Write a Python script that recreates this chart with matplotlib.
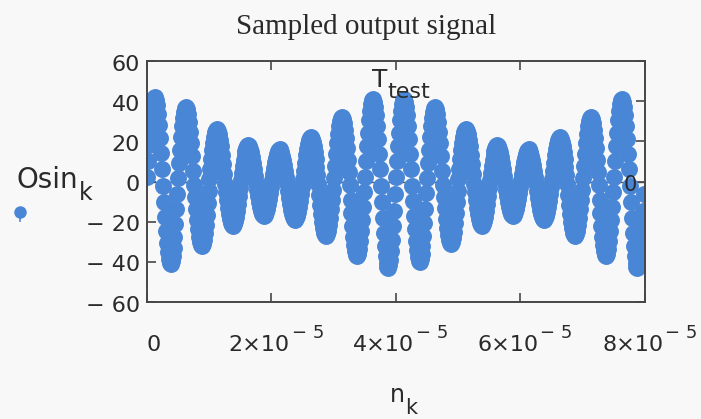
import numpy as np
import matplotlib
matplotlib.use("Agg")
import matplotlib.pyplot as plt
from matplotlib.lines import Line2D

plt.rcParams["font.family"] = ["DejaVu Sans"]
plt.rcParams["mathtext.fontset"] = "dejavusans"

# === sampling grid (n_k): 32 samples per carrier cycle ===
t_start = 0.039e-6
t_step = 5e-6 / 32

# === Osin_k, one list per carrier cycle (upper lobe, lower lobe) ===
cyc01 = [2.1, 10.2, 18.0, 25.0, 31.1, 36.0, 39.5, 41.5, 41.9, 40.7, 38.0, 33.7, 28.2, 21.6, 14.1, 6.2,
         -2.0, -10.0, -17.5, -24.4, -30.4, -35.2, -38.6, -40.6, -41.0, -39.8, -37.1, -32.9, -27.5, -21.1, -13.8, -6.0]
cyc02 = [1.8, 9.0, 15.8, 22.0, 27.4, 31.7, 34.8, 36.6, 37.0, 35.9, 33.4, 29.7, 24.8, 19.0, 12.5, 5.4,
         -1.6, -7.8, -13.7, -19.1, -23.7, -27.4, -30.1, -31.7, -32.0, -31.0, -28.9, -25.7, -21.5, -16.5, -10.8, -4.7]
cyc03 = [1.3, 6.3, 11.1, 15.5, 19.3, 22.3, 24.5, 25.7, 26.0, 25.2, 23.5, 20.9, 17.5, 13.4, 8.8, 3.8,
         -1.1, -5.3, -9.4, -13.1, -16.3, -18.9, -20.7, -21.8, -22.0, -21.3, -19.9, -17.7, -14.8, -11.3, -7.4, -3.2]
cyc04 = [0.9, 4.4, 7.7, 10.7, 13.3, 15.4, 16.9, 17.8, 18.0, 17.5, 16.3, 14.5, 12.1, 9.3, 6.1, 2.6,
         -0.8, -4.1, -7.3, -10.1, -12.6, -14.6, -16.0, -16.8, -17.0, -16.5, -15.4, -13.7, -11.4, -8.7, -5.7, -2.5]
cyc05 = [0.8, 3.9, 6.8, 9.5, 11.9, 13.7, 15.1, 15.8, 16.0, 15.5, 14.5, 12.9, 10.7, 8.2, 5.4, 2.3,
         -0.9, -4.6, -8.1, -11.3, -14.1, -16.3, -17.9, -18.8, -19.0, -18.4, -17.2, -15.3, -12.8, -9.8, -6.4, -2.8]
cyc06 = [1.1, 5.3, 9.4, 13.1, 16.3, 18.9, 20.7, 21.8, 22.0, 21.3, 19.9, 17.7, 14.8, 11.3, 7.4, 3.2,
         -1.3, -6.6, -11.5, -16.1, -20.0, -23.2, -25.4, -26.7, -27.0, -26.2, -24.4, -21.7, -18.1, -13.9, -9.1, -4.0]
cyc07 = [1.6, 7.8, 13.7, 19.1, 23.7, 27.4, 30.1, 31.7, 32.0, 31.0, 28.9, 25.7, 21.5, 16.5, 10.8, 4.7,
         -1.8, -9.0, -15.8, -22.0, -27.4, -31.7, -34.8, -36.6, -37.0, -35.9, -33.4, -29.7, -24.8, -19.0, -12.5, -5.4]
cyc08 = [2.0, 10.0, 17.5, 24.4, 30.4, 35.2, 38.6, 40.6, 41.0, 39.8, 37.1, 32.9, 27.5, 21.1, 13.8, 6.0,
         -2.1, -10.4, -18.4, -25.6, -31.9, -36.9, -40.5, -42.5, -42.9, -41.7, -38.9, -34.5, -28.9, -22.1, -14.5, -6.3]
cyc09 = [2.0, 10.0, 17.5, 24.4, 30.4, 35.2, 38.6, 40.6, 41.0, 39.8, 37.1, 32.9, 27.5, 21.1, 13.8, 6.0,
         -2.0, -9.7, -17.1, -23.8, -29.6, -34.3, -37.7, -39.6, -40.0, -38.8, -36.2, -32.1, -26.9, -20.6, -13.5, -5.9]
cyc10 = [1.8, 9.0, 15.8, 22.0, 27.4, 31.7, 34.8, 36.6, 37.0, 35.9, 33.4, 29.7, 24.8, 19.0, 12.5, 5.4,
         -1.5, -7.5, -13.3, -18.5, -23.0, -26.6, -29.2, -30.7, -31.0, -30.1, -28.0, -24.9, -20.8, -15.9, -10.4, -4.5]
cyc11 = [1.3, 6.3, 11.1, 15.5, 19.3, 22.3, 24.5, 25.7, 26.0, 25.2, 23.5, 20.9, 17.5, 13.4, 8.8, 3.8,
         -1.1, -5.3, -9.4, -13.1, -16.3, -18.9, -20.7, -21.8, -22.0, -21.3, -19.9, -17.7, -14.8, -11.3, -7.4, -3.2]
cyc12 = [0.9, 4.4, 7.7, 10.7, 13.3, 15.4, 16.9, 17.8, 18.0, 17.5, 16.3, 14.5, 12.1, 9.3, 6.1, 2.6,
         -0.8, -4.1, -7.3, -10.1, -12.6, -14.6, -16.0, -16.8, -17.0, -16.5, -15.4, -13.7, -11.4, -8.7, -5.7, -2.5]
cyc13 = [0.8, 3.9, 6.8, 9.5, 11.9, 13.7, 15.1, 15.8, 16.0, 15.5, 14.5, 12.9, 10.7, 8.2, 5.4, 2.3,
         -0.9, -4.6, -8.1, -11.3, -14.1, -16.3, -17.9, -18.8, -19.0, -18.4, -17.2, -15.3, -12.8, -9.8, -6.4, -2.8]
cyc14 = [1.1, 5.3, 9.4, 13.1, 16.3, 18.9, 20.7, 21.8, 22.0, 21.3, 19.9, 17.7, 14.8, 11.3, 7.4, 3.2,
         -1.3, -6.6, -11.5, -16.1, -20.0, -23.2, -25.4, -26.7, -27.0, -26.2, -24.4, -21.7, -18.1, -13.9, -9.1, -4.0]
cyc15 = [1.6, 7.8, 13.7, 19.1, 23.7, 27.4, 30.1, 31.7, 32.0, 31.0, 28.9, 25.7, 21.5, 16.5, 10.8, 4.7,
         -1.8, -9.0, -15.8, -22.0, -27.4, -31.7, -34.8, -36.6, -37.0, -35.9, -33.4, -29.7, -24.8, -19.0, -12.5, -5.4]
cyc16 = [2.0, 10.0, 17.5, 24.4, 30.4, 35.2, 38.6, 40.6, 41.0, 39.8, 37.1, 32.9, 27.5, 21.1, 13.8, 6.0,
         -2.1, -10.4, -18.4, -25.6, -31.9, -36.9, -40.5, -42.5, -42.9, -41.7, -38.9, -34.5, -28.9, -22.1, -14.5, -6.3]

osin = np.concatenate([cyc01, cyc02, cyc03, cyc04, cyc05, cyc06, cyc07, cyc08,
                       cyc09, cyc10, cyc11, cyc12, cyc13, cyc14, cyc15, cyc16])
n_k = t_start + t_step * np.arange(len(osin))

# === ticks ===
x_ticks = [0, 2e-5, 4e-5, 6e-5, 8e-5]
x_mant = ["0", "2\u00d710", "4\u00d710", "6\u00d710", "8\u00d710"]
x_exp = ["", "\u2212 5", "\u2212 5", "\u2212 5", "\u2212 5"]
y_ticks = [60, 40, 20, 0, -20, -40, -60]
y_labels = ["60", "40", "20", "0", "\u2212 20", "\u2212 40", "\u2212 60"]

dot_color = "#4a86d6"
frame_color = "#474747"
text_color = "#2a2a2a"
bg = "#f8f8f8"

W, H = 701, 419
def fx(x):
    return x / W
def fy(y):
    return 1 - y / H

fig = plt.figure(figsize=(7.01, 4.19), dpi=100, facecolor=bg)
ax = fig.add_axes([0.2097, 0.2792, 0.7104, 0.5752], facecolor=bg)

ax.axhline(0, color="#555555", lw=1.0, zorder=1)
ax.plot(n_k, osin, "o", ms=12.2, color=dot_color, mec="none", zorder=2)

ax.set_xlim(0, 8e-5)
ax.set_ylim(-60, 60)
ax.set_xticks(x_ticks)
ax.set_yticks(y_ticks)
ax.tick_params(direction="in", length=6.5, width=1.2, color=frame_color,
               top=True, right=True, labelbottom=False, labelleft=False)
for s in ax.spines.values():
    s.set_color(frame_color)
    s.set_linewidth(1.4)

# tick labels, placed the way Mathcad does it (mantissa + raised exponent)
x0_px, x1_px = 147, 645
for v, m, e in zip(x_ticks, x_mant, x_exp):
    xt = x0_px + v / 8e-5 * (x1_px - x0_px)
    if e:
        fig.text(fx(xt + 18.5), fy(351), m, ha="right", va="baseline",
                 fontsize=16, color=text_color)
        fig.text(fx(xt + 20), fy(338), e, ha="left", va="baseline",
                 fontsize=13, color=text_color)
    else:
        fig.text(fx(xt + 7), fy(351), m, ha="center", va="baseline",
                 fontsize=16, color=text_color)
for v, lab in zip(y_ticks, y_labels):
    ax.text(-0.014, v - 1.8, lab, transform=ax.get_yaxis_transform(),
            ha="right", va="center", fontsize=16, color=text_color)

# axis names and markers
fig.text(fx(390), fy(402), "n", ha="left", va="baseline", fontsize=17, color=text_color)
fig.text(fx(405), fy(414), "k", ha="left", va="baseline", fontsize=15, color=text_color)
fig.text(fx(372), fy(87), "T", ha="left", va="baseline", fontsize=18, color=text_color)
fig.text(fx(387), fy(98), "test", ha="left", va="baseline", fontsize=16, color=text_color)
ax.text(7.76e-5, -1.5, "0", ha="center", va="center", fontsize=15, color=text_color)

# legend at left
fig.text(fx(16), fy(188), "Osin", ha="left", va="baseline", fontsize=20, color=text_color)
fig.text(fx(79), fy(200), "k", ha="left", va="baseline", fontsize=17, color=text_color)
fig.add_artist(Line2D([fx(20), fx(20)], [fy(212), fy(221)],
                      transform=fig.transFigure, color=dot_color, lw=1.2))
fig.add_artist(Line2D([fx(20)], [fy(212)], transform=fig.transFigure,
                      marker="o", ms=9, color=dot_color, mec="none", ls="none"))

fig.text(fx(366), fy(27), "Sampled output signal", ha="center", va="center",
         fontsize=21, family="Liberation Serif", color=text_color)

fig.savefig("out.png", dpi=100, facecolor=bg)
